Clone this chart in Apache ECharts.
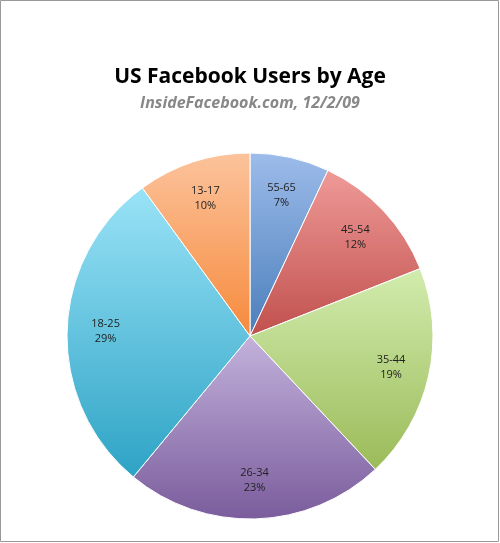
<!DOCTYPE html>
<html><head><meta charset="utf-8">
<script src="https://cdn.jsdelivr.net/npm/echarts@6/dist/echarts.min.js"></script>
<style>html,body{margin:0;padding:0;background:#fff}#c{width:500px;height:543px}</style>
</head><body><div id="c"></div>
<script>
const categories = ['55-65','45-54','35-44','26-34','18-25','13-17'];
const values = [7,12,19,23,29,10];
const colorsLight = ['#9dbcea','#ef9a98','#d2ecae','#c3b2dc','#9ae3f7','#fcc39c'];
const colorsDark  = ['#4a7ebb','#c0504d','#9bbb59','#7a5c9c','#2ea3c5','#f68a3c'];
const chart = echarts.init(document.getElementById('c'));
const grad = i => new echarts.graphic.LinearGradient(0,0,0,1,[{offset:0,color:colorsLight[i]},{offset:1,color:colorsDark[i]}]);
const data = categories.map((n,i)=>({name:n,value:values[i],itemStyle:{color:grad(i)}}));
chart.setOption({
  animation:false,
  title:{text:'US Facebook Users by Age',subtext:'InsideFacebook.com, 12/2/09',left:'center',top:62,itemGap:7,
    textStyle:{fontFamily:'Open Sans',fontWeight:'bold',fontSize:21,color:'#000'},
    subtextStyle:{fontFamily:'Open Sans',fontWeight:'bold',fontStyle:'italic',fontSize:16,color:'#888'}},
  graphic:[{type:'rect',shape:{x:0.5,y:0.5,width:498,height:541},style:{fill:'none',stroke:'#999',lineWidth:1}}],
  series:[
    {type:'pie',center:[250,336],radius:[0,183],startAngle:90,clockwise:true,
     data:data,label:{show:false},labelLine:{show:false},itemStyle:{borderColor:'#fff',borderWidth:1},silent:true},
    {type:'pie',center:[250,336],radius:[100,183],startAngle:90,clockwise:true,silent:true,
     data:categories.map((n,i)=>({name:n,value:values[i]})),
     itemStyle:{color:'rgba(0,0,0,0)'},
     label:{show:true,position:'inside',formatter:p=>p.name+'\n'+p.value+'%',
       fontFamily:'Open Sans',fontSize:11,color:'#222',lineHeight:15,align:'center'},
     labelLine:{show:false}}
  ]
});
</script></body></html>
